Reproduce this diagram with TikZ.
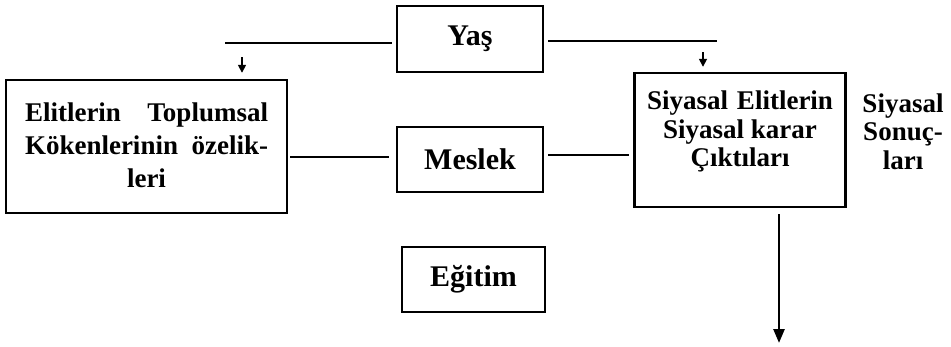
\documentclass[tikz,border=0pt]{standalone}
\usepackage{fontspec}
\setmainfont{Liberation Serif}
\usetikzlibrary{arrows.meta}
\begin{document}
\begin{tikzpicture}[x=1pt,y=-1pt,
  box/.style={draw, line width=2.4pt, inner sep=0pt},
  conn/.style={line width=2.2pt},
  lbl/.style={inner sep=0pt, align=center},
  wordlbl/.style={font=\bfseries\fontsize{30}{32}\selectfont},
  tip/.style={line width=1.6pt, -{Triangle[length=8pt,width=8pt]}},
  bigtip/.style={line width=2.6pt, -{Triangle[length=14pt,width=11pt]}}]
\path[use as bounding box] (0,0) rectangle (951,346);
% boxes
\node[box, wordlbl, minimum width=146pt, minimum height=66pt] (yas) at (470,39) {Yaş};
\node[box, wordlbl, minimum width=146pt, minimum height=65pt] (mes) at (470,159.5) {Meslek};
\node[box, wordlbl, minimum width=143pt, minimum height=65pt] (egi) at (473.5,279.5) {Eğitim};
\node[box, minimum width=281pt, minimum height=133pt] (lbox) at (146.5,146.5) {};
\node[box, minimum width=211pt, minimum height=134pt] (rbox) at (740,140) {};
% texts
\node[lbl, font=\bfseries\fontsize{27}{33}\selectfont] (ltext) at (146.5,145)
  {\makebox[243pt][s]{Elitlerin Toplumsal}\\\makebox[243pt][s]{Kökenlerinin özelik-}\\leri};
\node[lbl, font=\bfseries\fontsize{27}{28.5}\selectfont] (rtext) at (740,131.5)
  {\makebox[186pt][s]{Siyasal Elitlerin}\\Siyasal karar\\Çıktıları};
\node[lbl, font=\bfseries\fontsize{27}{28.5}\selectfont] (stext) at (903,131.5)
  {Siyasal\\Sonuç-\\ları};
% connectors
\coordinate (yl) at (225,43);
\coordinate (yr) at (717,41);
\draw[conn, shorten <=4pt] (yas.west |- yl) -- (yl);
\draw[conn, shorten <=4pt] (yas.east |- yr) -- (yr);
\coordinate (al) at (242,57);
\coordinate (ar) at (703,52);
\draw[tip, shorten >=6pt] (al) -- (al |- lbox.north);
\draw[tip, shorten >=5pt] (ar) -- (ar |- rbox.north);
\draw[conn, shorten <=2pt, shorten >=7pt] ([yshift=2.5pt]lbox.east |- mes.west) -- ([yshift=2.5pt]mes.west);
\draw[conn, shorten <=4pt, shorten >=4pt] ([yshift=4.5pt]mes.east) -- ([yshift=4.5pt]mes.east -| rbox.west);
\coordinate (out) at (779,343);
\draw[bigtip, shorten <=6pt] (rbox.south -| out) -- (out);
\end{tikzpicture}
\end{document}
